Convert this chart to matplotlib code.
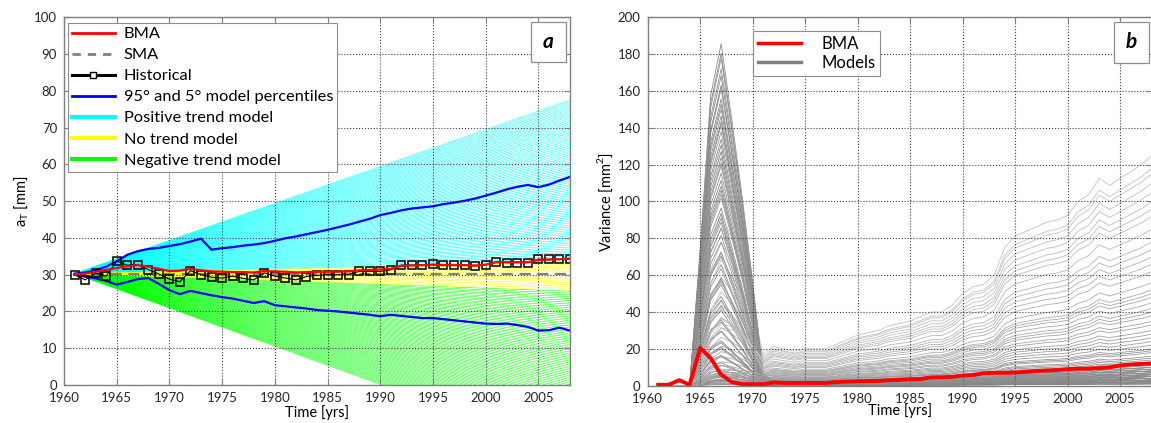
import matplotlib.pyplot as plt
from matplotlib.patches import Rectangle
from matplotlib.lines import Line2D
import numpy as np

plt.rcParams['font.family'] = ['Lato', 'DejaVu Sans']

# ---- panel a data ----
years = np.arange(1961, 2009)

historical = [30.0, 28.6, 30.4, 29.6, 33.7, 32.6, 32.7, 31.4, 30.2, 28.8,
              28.1, 31.1, 30.0, 29.3, 29.1, 29.6, 29.0, 28.6, 30.5, 29.6,
              29.1, 28.6, 29.5, 29.8, 30.0, 30.0, 30.0, 30.9, 30.9, 30.9,
              31.3, 32.6, 32.6, 32.7, 32.8, 32.7, 32.6, 32.6, 32.4, 32.7,
              33.5, 33.3, 33.3, 33.3, 34.2, 34.2, 34.2, 34.2]

bma = [30.0, 30.3, 30.8, 31.3, 31.8, 32.3, 32.6, 32.2, 31.6, 31.0,
       31.1, 31.6, 31.2, 30.9, 30.8, 30.7, 30.7, 30.6, 31.0, 30.9,
       30.8, 30.6, 30.7, 30.8, 30.8, 30.8, 30.9, 31.2, 31.3, 31.4,
       31.6, 32.4, 32.5, 32.6, 32.7, 32.6, 32.6, 32.6, 32.5, 32.7,
       33.4, 33.4, 33.4, 33.4, 34.0, 34.1, 34.2, 34.4]

sma = [30.2] * 48

p95 = [30.3, 30.6, 31.2, 32.2, 33.6, 35.4, 36.4, 37.0, 37.3, 37.8,
       38.3, 39.0, 39.8, 36.8, 37.2, 37.5, 37.9, 38.2, 38.6, 39.2,
       39.9, 40.4, 41.0, 41.6, 42.2, 42.9, 43.6, 44.4, 45.2, 46.2,
       46.8, 47.5, 48.0, 48.3, 48.6, 49.2, 49.6, 50.1, 50.7, 51.5,
       52.3, 53.2, 53.9, 54.4, 53.8, 54.5, 55.6, 56.6]

p5 = [30.0, 29.5, 29.0, 28.3, 27.3, 28.0, 28.8, 29.1, 27.5, 25.8,
      24.7, 25.6, 25.0, 24.4, 23.9, 23.5, 22.9, 22.3, 22.8, 21.7,
      21.4, 21.1, 20.8, 20.4, 20.2, 20.0, 19.7, 19.4, 19.1, 18.7,
      19.1, 18.8, 18.5, 18.2, 18.2, 17.9, 17.6, 17.3, 17.0, 16.7,
      16.6, 16.7, 16.3, 15.8, 14.8, 14.9, 15.6, 14.8]

# trend models: start value (1961) and end value (2008) of each model
model_start = 30.3
cyan_end = [33.5, 34.0, 34.5, 35.0, 35.5, 36.0, 36.5, 37.0, 37.5, 38.0,
            38.5, 39.0, 39.5, 40.0, 40.5, 41.0, 41.5, 42.0, 42.5, 43.0,
            43.5, 44.0, 44.5, 45.0, 45.5, 46.0, 46.5, 47.0, 47.5, 48.0,
            48.5, 49.0, 49.5, 50.0, 50.5, 51.0, 51.5, 52.0, 52.5, 53.0,
            53.5, 54.0, 54.5, 55.0, 55.5, 56.0, 56.5, 57.0, 57.5, 58.0,
            58.5, 59.0, 59.5, 60.0, 60.5, 61.0, 61.5, 62.0, 62.5, 63.0,
            63.5, 64.0, 64.5, 65.0, 65.5, 66.0, 66.5, 67.0, 67.5, 68.0,
            68.5, 69.0, 69.5, 70.0, 70.5, 71.0, 71.5, 72.0, 72.5, 73.0,
            73.5, 74.0, 74.5, 75.0, 75.5, 76.0, 76.5, 77.0, 77.5]
yellow_end = [25.8, 26.3, 26.8, 27.3, 27.8, 28.3, 28.8, 29.3, 29.8, 30.3,
              30.8, 31.3, 31.8, 32.3, 32.8, 33.3]
green_end = [25.5, 25.0, 24.5, 24.0, 23.5, 23.0, 22.5, 22.0, 21.5, 21.0,
             20.5, 20.0, 19.5, 19.0, 18.5, 18.0, 17.5, 17.0, 16.5, 16.0,
             15.5, 15.0, 14.5, 14.0, 13.5, 13.0, 12.5, 12.0, 11.5, 11.0,
             10.5, 10.0, 9.5, 9.0, 8.5, 8.0, 7.5, 7.0, 6.5, 6.0,
             5.5, 5.0, 4.5, 4.0, 3.5, 3.0, 2.5, 2.0, 1.5, 1.0,
             0.5, 0.0, -0.5, -1.0, -1.5, -2.0, -2.5, -3.0, -3.5, -4.0,
             -4.5, -5.0, -5.5, -6.0, -6.5, -7.0, -7.5, -8.0, -8.5, -9.0,
             -9.5, -10.0, -10.5, -11.0, -11.5, -12.0, -12.5, -13.0, -13.5, -14.0,
             -14.5, -15.0, -15.5, -16.0, -16.5, -17.0, -17.5, -18.0, -18.5]

# ---- panel b data ----
bma_var = [0.5, 0.5, 3.0, 0.5, 20.5, 15.0, 6.0, 2.0, 0.8, 0.8,
           0.8, 1.8, 1.5, 1.5, 1.5, 1.5, 1.5, 2.0, 2.2, 2.4,
           2.5, 2.6, 3.0, 3.2, 3.5, 3.6, 4.5, 4.6, 4.8, 5.5,
           5.8, 6.8, 7.0, 7.0, 7.2, 7.5, 8.0, 8.2, 8.5, 9.0,
           9.2, 9.3, 9.5, 10.0, 11.0, 11.5, 11.8, 12.0]

# shape of the 1965-1971 variance burst (relative to its peak)
spike_shape = [0, 0, 0, 0, 0.4, 0.85, 1.0, 0.78, 0.55, 0.3,
               0.03, 0, 0, 0, 0, 0, 0, 0, 0, 0,
               0, 0, 0, 0, 0, 0, 0, 0, 0, 0,
               0, 0, 0, 0, 0, 0, 0, 0, 0, 0,
               0, 0, 0, 0, 0, 0, 0, 0]
# shape of the slow variance growth (relative to 2008)
trend_shape = [0, 0, 0, 0, 0, 0.1, 0.15, 0.17, 0.17, 0.15,
               0.12, 0.17, 0.16, 0.15, 0.16, 0.16, 0.16, 0.18, 0.2, 0.22,
               0.23, 0.24, 0.26, 0.27, 0.28, 0.3, 0.32, 0.32, 0.35, 0.4,
               0.43, 0.44, 0.48, 0.6, 0.65, 0.67, 0.69, 0.71, 0.72, 0.74,
               0.8, 0.83, 0.9, 0.87, 0.9, 0.93, 0.96, 1.0]

spike_peak = [185, 176, 168, 160, 152, 146, 140, 133, 127, 120,
              114, 108, 102, 96, 90, 85, 80, 75, 70, 65,
              60, 56, 52, 48, 44, 40, 37, 34, 31, 28,
              25, 23, 21, 19, 17, 15, 13, 12, 11, 10,
              9, 8, 7, 6, 5.5, 5, 4.5, 4, 3.5, 3,
              2.7, 2.4, 2.1, 1.8, 1.5, 1.3, 1.1, 0.9, 0.7, 0.5,
              180, 171, 163, 155, 149, 143, 136, 130, 123, 117,
              111, 105, 99, 93, 88, 82, 77, 72, 67, 62,
              58, 54, 50, 46, 42, 38, 35, 32, 29, 26,
              24, 22, 20, 18, 16, 14, 2.5, 2.0, 1.0, 0.3]
trend_end = [4, 12, 2, 8, 6, 3, 10, 5, 1, 7,
             9, 2, 14, 3, 6, 4, 11, 125, 2, 5,
             118, 8, 110, 3, 100, 6, 92, 4, 85, 9,
             78, 2, 70, 7, 62, 5, 56, 3, 50, 8,
             45, 4, 40, 6, 35, 3, 30, 5, 26, 2,
             22, 4, 18, 3, 15, 2, 12, 1.5, 10, 1,
             3, 7, 1, 5, 9, 2, 13, 4, 6, 16,
             3, 8, 20, 2, 5, 24, 7, 4, 33, 10,
             2, 6, 42, 3, 8, 52, 5, 66, 4, 74,
             2, 96, 6, 105, 3, 115, 19, 28, 38, 48]

fig = plt.figure(figsize=(11.51, 4.23), dpi=100)
ax1 = fig.add_axes([0.0556, 0.0898, 0.4396, 0.8693])
ax2 = fig.add_axes([0.5627, 0.0882, 0.4379, 0.8709])

# ---- panel a ----
for e in cyan_end:
    ax1.plot([1961, 2008], [model_start, e], color='#00ffff', lw=0.35, zorder=1)
for e in green_end:
    ax1.plot([1961, 2008], [model_start, e], color='#00ff00', lw=0.35, zorder=1)
for e in yellow_end:
    ax1.plot([1961, 2008], [model_start, e], color='#ffff00', lw=0.35, zorder=1)

ax1.plot(years, p95, color='#0000ff', lw=1.6, zorder=3)
ax1.plot(years, p5, color='#0000ff', lw=1.6, zorder=3)
ax1.plot(years, sma, color='#808080', lw=1.6, ls=(0, (5, 3)), zorder=3)
ax1.plot(years, historical, color='black', lw=0.8, marker='s', ms=6,
         mfc='none', mec='black', mew=1.1, zorder=4)
ax1.plot(years, bma, color='#ff0000', lw=1.6, zorder=5)

handles = [
    Line2D([], [], color='#ff0000', lw=2),
    Line2D([], [], color='#808080', lw=2, ls=(0, (3, 2.5))),
    Line2D([], [], color='black', lw=2.2, marker='s', ms=5, mfc='white', mec='black'),
    Line2D([], [], color='#0000ff', lw=2),
    Line2D([], [], color='#00ffff', lw=3),
    Line2D([], [], color='#ffff00', lw=3),
    Line2D([], [], color='#00ff00', lw=3),
]
labels = ['BMA', 'SMA', 'Historical', '95° and 5° model percentiles',
          'Positive trend model', 'No trend model', 'Negative trend model']
leg1 = ax1.legend(handles, labels, loc='upper left', bbox_to_anchor=(0.008, 0.985),
                  borderaxespad=0, fontsize=11.8, handlelength=2.6, handletextpad=0.55,
                  labelspacing=0.4, borderpad=0.25, fancybox=False, framealpha=1,
                  edgecolor='#8c8c8c')
leg1.get_frame().set_linewidth(0.8)
leg1.set_zorder(10)

ax1.set_xlim(1960, 2008)
ax1.set_ylim(0, 100)
ax1.set_xticks(range(1960, 2009, 5))
ax1.set_yticks(range(0, 101, 10))
ax1.set_xlabel('Time [yrs]', fontsize=10.5, labelpad=1)
ax1.set_ylabel('a$_\\mathregular{T}$ [mm]', fontsize=10.5, labelpad=2)

# ---- panel b ----
spike_shape = np.array(spike_shape)
trend_shape = np.array(trend_shape)
for sp, tr in zip(spike_peak, trend_end):
    shade = 0.5 + 0.27 * min(tr / 125.0, 1.0) ** 0.5
    ax2.plot(years, sp * spike_shape + tr * trend_shape,
             color=str(shade), lw=0.6, zorder=1)
ax2.plot(years, bma_var, color='#ff0000', lw=2.8, zorder=5)

handles2 = [Line2D([], [], color='#ff0000', lw=2.5),
            Line2D([], [], color='#808080', lw=2.5)]
leg2 = ax2.legend(handles2, ['BMA', 'Models'], loc='upper left',
                  bbox_to_anchor=(0.209, 0.963), borderaxespad=0, fontsize=12,
                  handlelength=2.6, handletextpad=1.2, labelspacing=0.18,
                  borderpad=0.3, fancybox=False, framealpha=1, edgecolor='#8c8c8c')
leg2.get_frame().set_linewidth(0.8)
leg2.set_zorder(10)

ax2.set_xlim(1960, 2008)
ax2.set_ylim(0, 200)
ax2.set_xticks(range(1960, 2009, 5))
ax2.set_yticks(range(0, 201, 20))
ax2.set_xlabel('Time [yrs]', fontsize=10.5, labelpad=-1)
ax2.set_ylabel('Variance [mm$^\\mathregular{2}$]', fontsize=10.5, labelpad=2)

# common MATLAB-like styling
for ax, box, letter in [(ax1, (0.923, 0.878, 0.069, 0.109), 'a'),
                        (ax2, (0.925, 0.877, 0.070, 0.110), 'b')]:
    ax.grid(True, ls=':', color='#404040', lw=0.8)
    ax.set_axisbelow(False)
    ax.tick_params(direction='in', length=4, width=0.8, color='#808080',
                   top=True, right=True, labelsize=9.5, labelcolor='#262626', pad=5)
    for s in ax.spines.values():
        s.set_color('#808080')
        s.set_linewidth(1.0)
        s.set_zorder(12)
    ax.add_patch(Rectangle((box[0], box[1]), box[2], box[3], transform=ax.transAxes,
                           facecolor='white', edgecolor='#8c8c8c', lw=0.9, zorder=11))
    ax.text(box[0] + box[2] / 2, box[1] + box[3] / 2, letter, transform=ax.transAxes,
            ha='center', va='center', fontsize=15, fontweight='bold',
            fontstyle='italic', zorder=12)

fig.savefig('out.png', dpi=100)
